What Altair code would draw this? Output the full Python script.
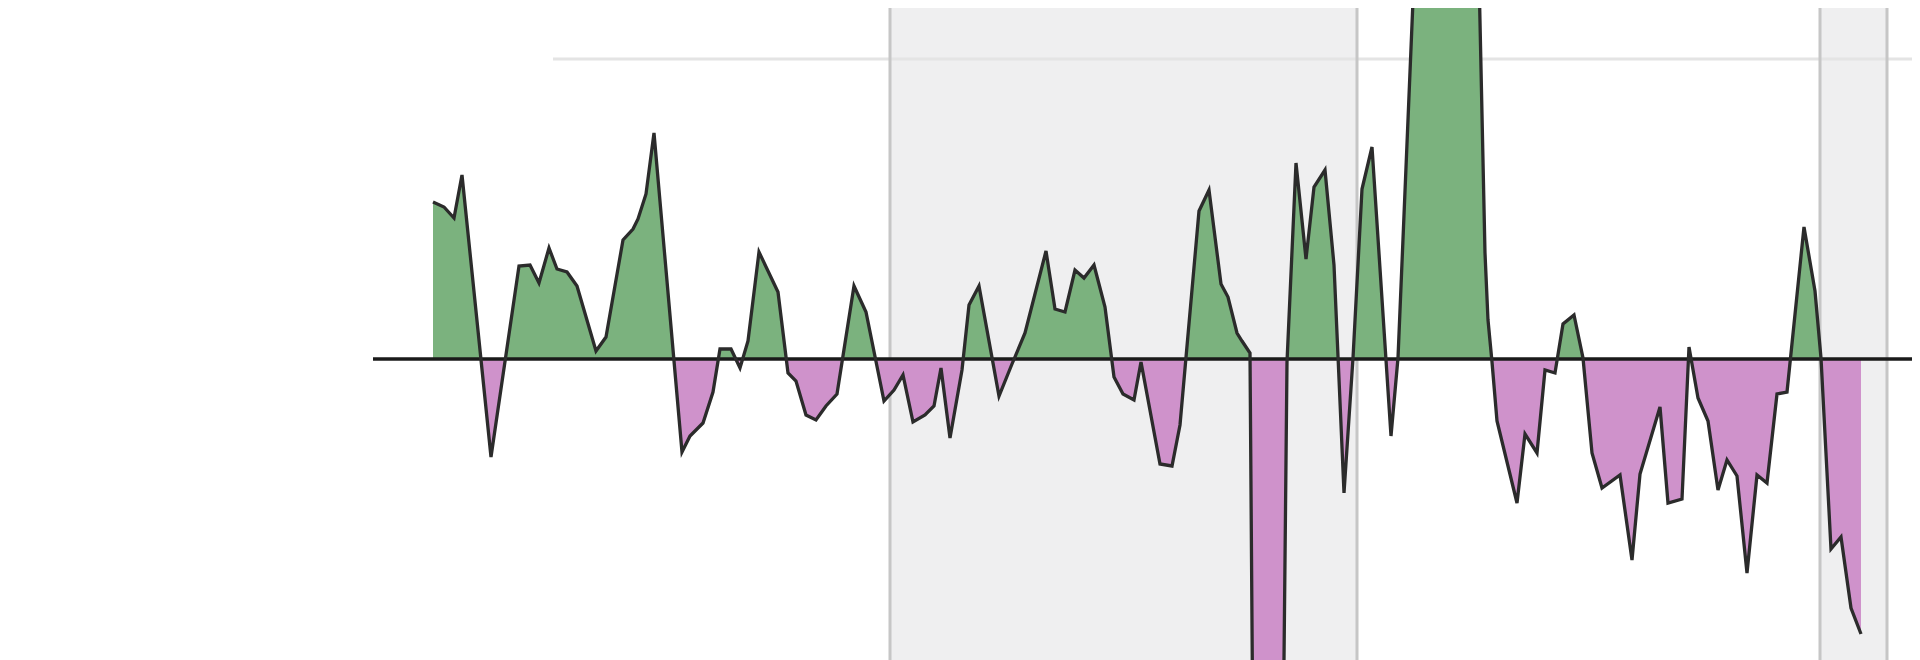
import altair as alt
import pandas as pd

# --- series (period index, value) ---
t = [0.0, 1.1, 2.1, 2.9, 5.8, 8.6, 9.7, 10.6, 11.6, 12.4, 13.4, 14.4, 16.3, 17.3,
     19.0, 20.0, 20.5, 21.3, 22.1, 24.9, 25.7, 27.0, 28.0, 28.7, 29.8, 30.7, 31.5,
     32.6, 34.5, 35.5, 36.3, 37.3, 38.3, 39.3, 40.4, 42.1, 43.3, 45.1, 46.1, 47.0,
     48.0, 49.2, 50.1, 50.8, 51.7, 52.9, 53.6, 54.6, 56.6, 57.9, 59.2, 61.3, 62.2,
     63.2, 64.2, 65.1, 66.1, 67.2, 68.1, 69.0, 70.1, 70.8, 72.7, 73.9, 74.7, 76.6,
     77.6, 78.8, 79.5, 80.4, 80.9, 81.7, 82.0, 85.0, 85.4, 86.3, 87.3, 88.1, 89.2,
     90.1, 91.1, 92.0, 92.9, 93.9, 95.8, 96.5, 98.3, 104.5, 105.2, 105.5, 105.9,
     106.4, 108.4, 109.2, 110.4, 111.2, 112.2, 113.0, 114.1, 115.0, 115.9, 116.9,
     118.7, 119.9, 120.7, 122.7, 123.5, 124.9, 125.6, 126.5, 127.5, 128.5, 129.4,
     130.4, 131.4, 132.4, 133.4, 134.4, 135.4, 137.1, 138.2, 138.8, 139.8, 140.8,
     141.8, 142.8]
v = [1.57, 1.52, 1.41, 1.84, -0.98, 0.93, 0.94, 0.76, 1.11, 0.90, 0.87, 0.73, 0.08, 0.22,
     1.19, 1.30, 1.40, 1.65, 2.26, -0.93, -0.77, -0.64, -0.33, 0.10, 0.10, -0.09, 0.18,
     1.07, 0.67, -0.14, -0.22, -0.56, -0.61, -0.47, -0.35, 0.73, 0.47, -0.42, -0.31, -0.16,
     -0.63, -0.56, -0.47, -0.09, -0.79, -0.11, 0.54, 0.73, -0.37, -0.05, 0.26, 1.08, 0.50,
     0.47, 0.89, 0.81, 0.94, 0.52, -0.18, -0.35, -0.41, -0.03, -1.05, -1.07, -0.66, 1.48,
     1.69, 0.75, 0.62, 0.26, 0.18, 0.06, -4.0, -4.0, -0.03, 1.96, 1.00, 1.72, 1.89,
     0.94, -1.34, 0.01, 1.70, 2.12, -0.77, 0.01, 4.3, 4.3, 1.06, 0.39, -0.03,
     -0.62, -1.44, -0.75, -0.94, -0.11, -0.14, 0.35, 0.44, 0.01, -0.94, -1.29,
     -1.16, -2.01, -1.15, -0.48, -1.44, -1.40, 0.12, -0.39, -0.62, -1.31, -1.01,
     -1.17, -2.14, -1.16, -1.24, -0.35, -0.33, 1.32, 0.68, 0.01, -1.90, -1.78,
     -2.49, -2.75]

# shaded periods
band_start = [45.7, 138.7]
band_end = [92.4, 145.4]

# reference lines
grid_value = [3.0]
grid_from = [12.0]
zero_from = [-6.0]

X_DOMAIN = [-42.5, 147.9]
Y_DOMAIN = [-3.01, 3.51]

W, H = 1904, 652
GREEN = "#7bb27e"
PURPLE = "#cf92cb"

series = pd.DataFrame({"t": t, "v": v})
bands = pd.DataFrame({"start": band_start, "end": band_end})
edges = pd.DataFrame({"x": band_start + band_end})
grid = pd.DataFrame({"x": grid_from, "x2": [X_DOMAIN[1]], "y": grid_value})
zero = pd.DataFrame({"x": zero_from, "x2": [X_DOMAIN[1]], "y": [0.0]})

xs = alt.Scale(domain=X_DOMAIN, nice=False, zero=False)
ys = alt.Scale(domain=Y_DOMAIN, nice=False, zero=False)

vmax, vmin = max(v), min(v)
f = vmax / (vmax - vmin)
grad = {
    "gradient": "linear", "x1": 0, "x2": 0, "y1": 0, "y2": 1,
    "stops": [
        {"offset": 0, "color": GREEN},
        {"offset": f, "color": GREEN},
        {"offset": f, "color": PURPLE},
        {"offset": 1, "color": PURPLE},
    ],
}

band_fill = alt.Chart(bands).mark_rect(fill="#efeff0").encode(
    x=alt.X("start:Q", scale=xs, axis=None), x2="end:Q")

grid_rule = alt.Chart(grid).mark_rule(color="#e4e4e4", strokeWidth=3).encode(
    x=alt.X("x:Q", scale=xs, axis=None), x2="x2:Q",
    y=alt.Y("y:Q", scale=ys, axis=None))

band_edges = alt.Chart(edges).mark_rule(color="#c6c6c6", strokeWidth=3).encode(
    x=alt.X("x:Q", scale=xs, axis=None))

area = alt.Chart(series).mark_area(color=grad, interpolate="linear", clip=True).encode(
    x=alt.X("t:Q", scale=xs, axis=None),
    y=alt.Y("v:Q", scale=ys, axis=None),
    y2=alt.datum(0))

zero_rule = alt.Chart(zero).mark_rule(color="#1a1a1a", strokeWidth=3.5).encode(
    x=alt.X("x:Q", scale=xs, axis=None), x2="x2:Q",
    y=alt.Y("y:Q", scale=ys, axis=None))

line = alt.Chart(series).mark_line(color="#2b2b2b", strokeWidth=3.3, clip=True).encode(
    x=alt.X("t:Q", scale=xs, axis=None),
    y=alt.Y("v:Q", scale=ys, axis=None))

chart = alt.layer(band_fill, grid_rule, band_edges, area, zero_rule, line).properties(
    width=W, height=H, padding=0, background="white",
    autosize=alt.AutoSizeParams(type="none"),
).configure_view(stroke=None)

chart.save("out.html", embed_options={"renderer": "svg", "actions": False})
